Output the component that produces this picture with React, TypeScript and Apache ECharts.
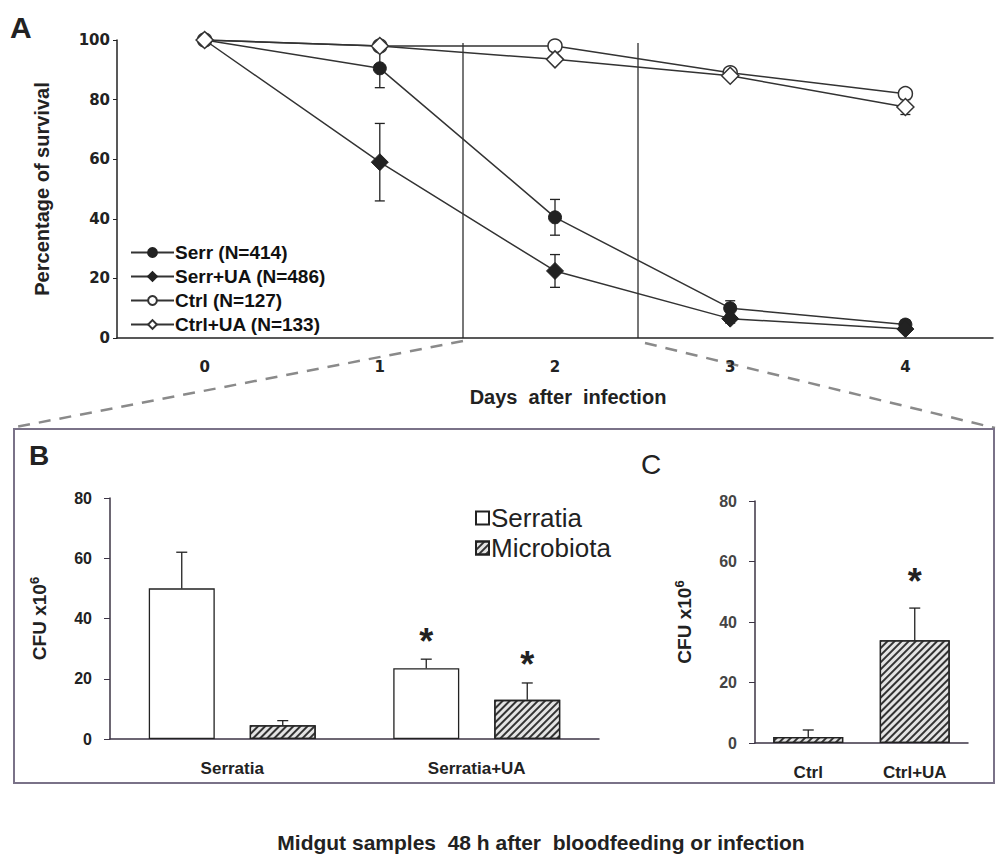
import React, { useEffect, useRef } from 'react';
import * as echarts from 'echarts';

const FONT = '"Liberation Sans", Arial, Helvetica, sans-serif';
const WIDE_FONT = '"DejaVu Sans", "Liberation Sans", Arial, sans-serif';

// Panel A: survival
const days = ['0', '1', '2', '3', '4'];
const seriesNamesA = ['Serr (N=414)', 'Serr+UA (N=486)', 'Ctrl (N=127)', 'Ctrl+UA (N=133)'];
const serr = [100, 90.5, 40.5, 10, 4.5];
const serrErr = [0, 6.5, 6, 2.5, 1.5];
const serrUA = [100, 59, 22.5, 6.5, 3];
const serrUAErr = [0, 13, 5.5, 1.5, 1];
const ctrl = [100, 98, 98, 89, 82];
const ctrlErr = [0, 0, 0, 1, 1.5];
const ctrlUA = [100, 98, 93.5, 88, 77.5];
const ctrlUAErr = [0, 0, 1, 1, 2.5];

// Panel B: CFU
const groupsB = ['Serratia', 'Serratia+UA'];
const legendB = ['Serratia', 'Microbiota'];
const serratiaCFU = [50, 23.5];
const serratiaErr = [12, 3];
const serratiaSig = [0, 1];
const microCFU = [4.6, 13];
const microErr = [1.5, 5.6];
const microSig = [0, 1];

// Panel C: CFU
const groupsC = ['Ctrl', 'Ctrl+UA'];
const microC = [2, 34];
const microCErr = [2.3, 10.6];
const microCSig = [0, 1];

const caption = 'Midgut samples  48 h after  bloodfeeding or infection';

const BAR_W_B = 66;
const BAR_GAP_B = 35;
const BAR_W_C = 70;

const hatch = {
  symbol: 'rect',
  symbolSize: 1,
  dashArrayX: [1, 0],
  dashArrayY: [1.3, 2.8],
  rotation: -Math.PI / 4,
  color: '#333',
};

function errorBars(axisIdx: number, values: number[], errs: number[], offset: number, cap: number, twoSided: boolean, z: number) {
  return {
    type: 'custom',
    xAxisIndex: axisIdx,
    yAxisIndex: axisIdx,
    z,
    silent: true,
    encode: { x: 0, y: 1 },
    data: values.map((v, i) => [i, v, errs[i]]),
    renderItem(params: any, api: any) {
      const i = api.value(0);
      const v = api.value(1);
      const e = api.value(2);
      if (!e) return null;
      const hi = api.coord([i, v + e]);
      const mid = api.coord([i, v]);
      const lo = api.coord([i, v - e]);
      const x = hi[0] + offset;
      const st = { stroke: '#222', lineWidth: 1.3 };
      const ch: any[] = [
        { type: 'line', shape: { x1: x, y1: hi[1], x2: x, y2: twoSided ? lo[1] : mid[1] }, style: st },
        { type: 'line', shape: { x1: x - cap / 2, y1: hi[1], x2: x + cap / 2, y2: hi[1] }, style: st },
      ];
      if (twoSided) ch.push({ type: 'line', shape: { x1: x - cap / 2, y1: lo[1], x2: x + cap / 2, y2: lo[1] }, style: st });
      return { type: 'group', children: ch };
    },
  };
}

function stars(axisIdx: number, values: number[], errs: number[], sig: number[], offset: number, gap: number) {
  return {
    type: 'custom',
    xAxisIndex: axisIdx,
    yAxisIndex: axisIdx,
    z: 5,
    silent: true,
    encode: { x: 0, y: 1 },
    data: values.map((v, i) => [i, v + errs[i], sig[i]]),
    renderItem(params: any, api: any) {
      if (!api.value(2)) return null;
      const p = api.coord([api.value(0), api.value(1)]);
      return {
        type: 'text',
        style: {
          text: '*',
          x: p[0] + offset,
          y: p[1] - gap,
          align: 'center',
          verticalAlign: 'middle',
          fontSize: 36,
          fontWeight: 'bold',
          fontFamily: FONT,
          fill: '#222',
        },
      };
    },
  };
}

const lineA = (name: string, data: number[], symbol: string, size: number, filled: boolean) => ({
  type: 'line',
  name,
  xAxisIndex: 0,
  yAxisIndex: 0,
  data,
  symbol,
  symbolSize: size,
  z: 3,
  lineStyle: { color: '#333', width: 1.5 },
  itemStyle: filled ? { color: '#222', borderColor: '#222', borderWidth: 1 } : { color: '#fff', borderColor: '#333', borderWidth: 1.5 },
});

const tickLabel = { color: '#222', fontWeight: 'bold', fontSize: 16, fontFamily: FONT };
const tickLabelA = { color: '#222', fontWeight: 'bold', fontSize: 15, fontFamily: WIDE_FONT };
const cfuName = '{a|CFU x10}{s|6}';
const cfuRich = {
  a: { fontSize: 19, fontWeight: 'bold', fontFamily: FONT, color: '#222', lineHeight: 22 },
  s: { fontSize: 13, fontWeight: 'bold', fontFamily: FONT, color: '#222', lineHeight: 22, verticalAlign: 'top' },
};

export default function App() {
  const ref = useRef<HTMLDivElement>(null);
  useEffect(() => {
    document.body.style.margin = '0';
    const chart = echarts.init(ref.current!, undefined, { renderer: 'svg' });
    const axisColB = '#3d3545';
    const option: any = {
      animation: false,
      backgroundColor: '#fff',
      textStyle: { fontFamily: FONT },
      grid: [
        { left: 117, top: 40, width: 876, height: 298 },
        { left: 110, top: 498, width: 489, height: 241 },
        { left: 755, top: 501, width: 213, height: 242 },
      ],
      xAxis: [
        {
          gridIndex: 0,
          type: 'category',
          data: days,
          boundaryGap: true,
          axisLine: { lineStyle: { color: '#222', width: 1.5 } },
          axisTick: { length: 4, lineStyle: { color: '#222' } },
          axisLabel: { ...tickLabelA, margin: 21 },
          name: 'Days  after  infection',
          nameLocation: 'middle',
          nameGap: 49,
          nameTextStyle: { fontSize: 20, fontWeight: 'bold', color: '#222', padding: [0, 0, 0, 26] },
        },
        {
          gridIndex: 1,
          type: 'category',
          data: groupsB,
          axisLine: { lineStyle: { color: axisColB, width: 1.5 } },
          axisTick: { length: 5, lineStyle: { color: axisColB } },
          axisLabel: { ...tickLabel, fontSize: 17, margin: 21 },
        },
        {
          gridIndex: 2,
          type: 'category',
          data: groupsC,
          axisLine: { lineStyle: { color: axisColB, width: 1.5 } },
          axisTick: { length: 5, lineStyle: { color: axisColB } },
          axisLabel: { ...tickLabel, fontSize: 17, margin: 21 },
        },
      ],
      yAxis: [
        {
          gridIndex: 0,
          type: 'value',
          min: 0,
          max: 100,
          interval: 20,
          splitLine: { show: false },
          axisLine: { show: true, lineStyle: { color: '#222', width: 1.5 } },
          axisTick: { show: true, length: 4, lineStyle: { color: '#222' } },
          axisLabel: { ...tickLabelA, margin: 7 },
          name: 'Percentage of survival',
          nameLocation: 'middle',
          nameGap: 65,
          nameTextStyle: { fontSize: 20, fontWeight: 'bold', color: '#222' },
        },
        {
          gridIndex: 1,
          type: 'value',
          min: 0,
          max: 80,
          interval: 20,
          splitLine: { show: false },
          axisLine: { show: true, lineStyle: { color: axisColB, width: 1.5 } },
          axisTick: { show: true, length: 6, lineStyle: { color: axisColB } },
          axisLabel: { ...tickLabel, margin: 18 },
          name: cfuName,
          nameLocation: 'middle',
          nameGap: 60,
          nameTextStyle: { rich: cfuRich },
        },
        {
          gridIndex: 2,
          type: 'value',
          min: 0,
          max: 80,
          interval: 20,
          splitLine: { show: false },
          axisLine: { show: true, lineStyle: { color: axisColB, width: 1.5 } },
          axisTick: { show: true, length: 6, lineStyle: { color: axisColB } },
          axisLabel: { ...tickLabel, color: '#444', margin: 18 },
          name: cfuName,
          nameLocation: 'middle',
          nameGap: 60,
          nameTextStyle: { rich: cfuRich },
        },
      ],
      legend: [
        {
          data: seriesNamesA,
          orient: 'vertical',
          left: 125,
          top: 238,
          itemWidth: 43,
          itemHeight: 11,
          itemGap: 5,
          textStyle: { fontSize: 19, fontWeight: 'bold', color: '#111', fontFamily: FONT, padding: [0, 0, 0, -4] },
        },
        {
          data: legendB,
          orient: 'vertical',
          left: 470,
          top: 500,
          itemWidth: 13,
          itemHeight: 13,
          itemGap: 4,
          icon: 'rect',
          textStyle: { fontSize: 26, color: '#222', fontFamily: FONT, padding: [0, 0, 0, -3] },
        },
      ],
      series: [
        errorBars(0, serr, serrErr, 0, 10, true, 1),
        errorBars(0, serrUA, serrUAErr, 0, 10, true, 1),
        errorBars(0, ctrl, ctrlErr, 0, 10, true, 1),
        errorBars(0, ctrlUA, ctrlUAErr, 0, 10, true, 1),
        lineA(seriesNamesA[0], serr, 'circle', 13, true),
        lineA(seriesNamesA[1], serrUA, 'diamond', 17, true),
        lineA(seriesNamesA[2], ctrl, 'circle', 14, false),
        lineA(seriesNamesA[3], ctrlUA, 'diamond', 17, false),
        {
          type: 'bar',
          name: legendB[0],
          xAxisIndex: 1,
          yAxisIndex: 1,
          data: serratiaCFU,
          barWidth: BAR_W_B,
          barGap: `${Math.round((BAR_GAP_B / BAR_W_B) * 100)}%`,
          itemStyle: { color: '#fff', borderColor: '#222', borderWidth: 1.3 },
        },
        {
          type: 'bar',
          name: legendB[1],
          xAxisIndex: 1,
          yAxisIndex: 1,
          data: microCFU,
          barWidth: BAR_W_B,
          itemStyle: { color: '#e4e4e4', borderColor: '#222', borderWidth: 1.3, decal: hatch },
        },
        errorBars(1, serratiaCFU, serratiaErr, -(BAR_W_B + BAR_GAP_B) / 2, 11, false, 3),
        errorBars(1, microCFU, microErr, (BAR_W_B + BAR_GAP_B) / 2, 11, false, 3),
        stars(1, serratiaCFU, serratiaErr, serratiaSig, -(BAR_W_B + BAR_GAP_B) / 2, 18),
        stars(1, microCFU, microErr, microSig, (BAR_W_B + BAR_GAP_B) / 2, 18),
        {
          type: 'bar',
          name: legendB[1],
          xAxisIndex: 2,
          yAxisIndex: 2,
          data: microC,
          barWidth: BAR_W_C,
          itemStyle: { color: '#e4e4e4', borderColor: '#222', borderWidth: 1.3, decal: hatch },
        },
        errorBars(2, microC, microCErr, 0, 11, false, 3),
        stars(2, microC, microCErr, microCSig, 0, 27),
      ],
      graphic: [
        { type: 'text', x: 10, y: 12, style: { text: 'A', fontSize: 30, fontWeight: 'bold', fontFamily: FONT, fill: '#222' } },
        { type: 'text', x: 29, y: 441, style: { text: 'B', fontSize: 28, fontWeight: 'bold', fontFamily: FONT, fill: '#222' } },
        { type: 'text', x: 641, y: 450, style: { text: 'C', fontSize: 28, fontFamily: FONT, fill: '#222' } },
        { type: 'line', shape: { x1: 463, y1: 43, x2: 463, y2: 338 }, style: { stroke: '#777', lineWidth: 2 } },
        { type: 'line', shape: { x1: 638, y1: 43, x2: 638, y2: 338 }, style: { stroke: '#777', lineWidth: 2 } },
        { type: 'line', shape: { x1: 463, y1: 341, x2: 16, y2: 427 }, style: { stroke: '#8a8a8a', lineWidth: 2.5, lineDash: [12, 9] } },
        { type: 'line', shape: { x1: 645, y1: 343, x2: 995, y2: 428 }, style: { stroke: '#8a8a8a', lineWidth: 2.5, lineDash: [12, 9] } },
        { type: 'rect', shape: { x: 14, y: 429, width: 980, height: 354 }, style: { fill: 'none', stroke: '#7a7288', lineWidth: 2 } },
        {
          type: 'text',
          x: 541,
          y: 842,
          style: { text: caption, fontSize: 21, fontWeight: 'bold', fontFamily: FONT, fill: '#222', align: 'center', verticalAlign: 'middle' },
        },
      ],
    };
    chart.setOption(option);
    return () => chart.dispose();
  }, []);
  return <div ref={ref} style={{ width: 996, height: 857 }} />;
}
